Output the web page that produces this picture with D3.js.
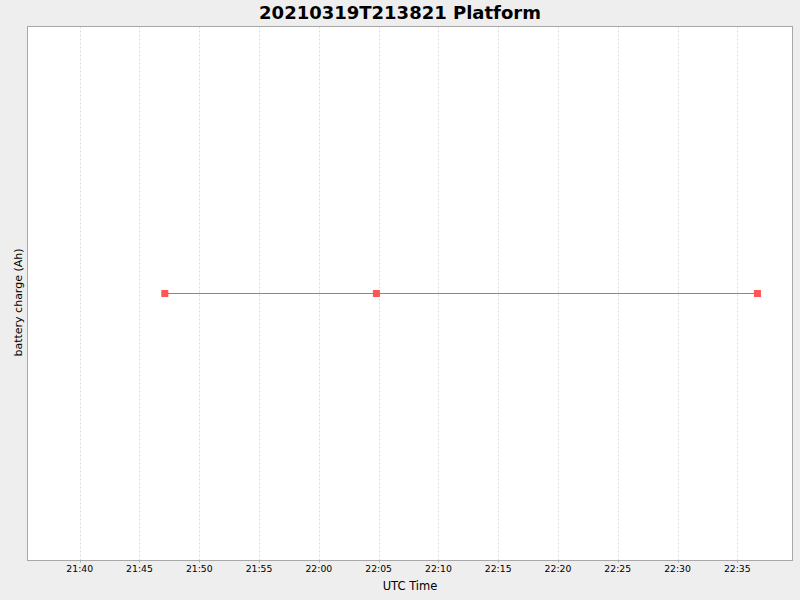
<!DOCTYPE html>
<html>
<head>
<meta charset="utf-8">
<script src="https://cdn.jsdelivr.net/npm/d3@7"></script>
<style>
  body { margin: 0; background: #eeeeee; }
  svg { display: block; font-family: "DejaVu Sans", sans-serif; }
</style>
</head>
<body>
<div id="chart"></div>
<script>
// Data
const times = ["2021-03-19T21:47:07Z", "2021-03-19T22:04:49Z", "2021-03-19T22:36:41Z"];
const charge = [100, 100, 100];
const xDomain = ["2021-03-19T21:35:38Z", "2021-03-19T22:39:37Z"];
const yDomain = [99, 101];
const titleText = "20210319T213821 Platform";

const [w, h] = [800, 600];
const plot = { left: 27.5, top: 26.5, right: 792.5, bottom: 560.5 };
const lineColor = "#ff5555";

const data = times.map((t, i) => ({ t: new Date(t), v: charge[i] }));

const xScale = d3.scaleUtc()
    .domain(xDomain.map(d => new Date(d)))
    .range([plot.left, plot.right]);

const yScale = d3.scaleLinear()
    .domain(yDomain)
    .range([plot.bottom, plot.top]);

const svg = d3.select("#chart")
    .append("svg")
    .attr("width", w)
    .attr("height", h);

svg.append("rect")
    .attr("width", w)
    .attr("height", h)
    .attr("fill", "#eeeeee");

// Plot background
svg.append("rect")
    .attr("x", plot.left)
    .attr("y", plot.top)
    .attr("width", plot.right - plot.left)
    .attr("height", plot.bottom - plot.top)
    .attr("fill", "white");

// Vertical grid lines at the 5 minute ticks
const ticks = xScale.ticks(d3.utcMinute.every(5));
svg.append("g")
    .selectAll("line")
    .data(ticks)
    .enter()
    .append("line")
    .attr("x1", d => Math.round(xScale(d)) + 0.5)
    .attr("x2", d => Math.round(xScale(d)) + 0.5)
    .attr("y1", plot.top)
    .attr("y2", plot.bottom)
    .attr("stroke", "#dcdcdc")
    .attr("stroke-width", 1)
    .attr("stroke-dasharray", "2,2");

// Border of the plot
svg.append("rect")
    .attr("x", plot.left)
    .attr("y", plot.top)
    .attr("width", plot.right - plot.left)
    .attr("height", plot.bottom - plot.top)
    .attr("fill", "none")
    .attr("stroke", "#a8a8a8");

// Bottom axis
const xAxis = d3.axisBottom(xScale)
    .ticks(d3.utcMinute.every(5))
    .tickFormat(d3.utcFormat("%H:%M"))
    .tickSize(2)
    .tickPadding(3)
    .offset(0);

const gx = svg.append("g")
    .attr("transform", `translate(0, ${plot.bottom})`)
    .call(xAxis);
gx.select(".domain").remove();
gx.selectAll(".tick line")
    .attr("stroke", "#a8a8a8")
    .attr("transform", d => `translate(${Math.round(xScale(d)) + 0.5 - xScale(d)},0)`);
gx.selectAll(".tick text")
    .attr("fill", "#000")
    .style("font-family", "DejaVu Sans")
    .style("font-size", "9.3px");

// Series line
const line = d3.line()
    .x(d => xScale(d.t))
    .y(d => yScale(d.v));

svg.append("path")
    .datum(data)
    .attr("d", line)
    .attr("fill", "none")
    .attr("stroke", lineColor)
    .attr("stroke-width", 1);

// Square markers
svg.selectAll("rect.marker")
    .data(data)
    .enter()
    .append("rect")
    .attr("class", "marker")
    .attr("x", d => xScale(d.t) - 3.5)
    .attr("y", d => yScale(d.v) - 3.5)
    .attr("width", 7)
    .attr("height", 7)
    .attr("fill", lineColor);

// Title
svg.append("text")
    .attr("x", w / 2)
    .attr("y", 19)
    .attr("text-anchor", "middle")
    .style("font-size", "18px")
    .style("font-weight", "bold")
    .text(titleText);

// Axis labels
svg.append("text")
    .attr("x", (plot.left + plot.right) / 2)
    .attr("y", 590)
    .attr("text-anchor", "middle")
    .style("font-size", "11.5px")
    .text("UTC Time");

svg.append("text")
    .attr("transform", `translate(22, ${(plot.top + plot.bottom) / 2 + 9}) rotate(-90)`)
    .attr("text-anchor", "middle")
    .style("font-size", "11px")
    .text("battery charge (Ah)");
</script>
</body>
</html>
